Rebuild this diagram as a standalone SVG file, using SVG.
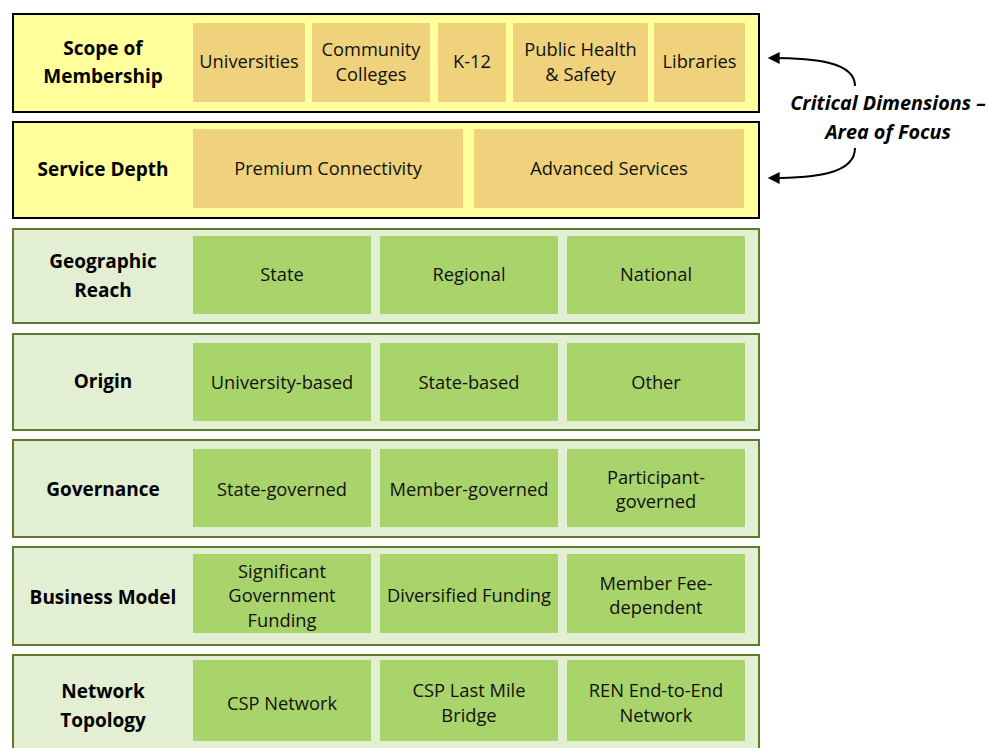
<svg xmlns="http://www.w3.org/2000/svg" width="989" height="748" viewBox="0 0 989 748">
<style>
.yo{fill:#FFFF9B;stroke:#000;stroke-width:2}
.yi{fill:#EFD27B}
.go{fill:#E2EFD2;stroke:#5B7B2D;stroke-width:2}
.gi{fill:#A9D46C}
.h{font-family:"Open Sans","Liberation Sans",sans-serif;font-weight:bold;font-size:19px;fill:#000;text-anchor:middle}
.t{font-family:"Open Sans","Liberation Sans",sans-serif;font-size:18.3px;fill:#111;text-anchor:middle}
.c{font-family:"Open Sans","Liberation Sans",sans-serif;font-weight:bold;font-style:italic;font-size:19.8px;fill:#000;text-anchor:middle}
.cn{fill:none;stroke:#000;stroke-width:2}
</style>
<defs>
<marker id="ah" viewBox="0 0 10 10" refX="8" refY="5" markerWidth="13" markerHeight="12" markerUnits="userSpaceOnUse" orient="auto">
<path d="M0,0 L10,5 L0,10 z" fill="#000"/>
</marker>
</defs>
<rect width="989" height="748" fill="#fff"/>

<g id="row-scope">
<rect class="yo" x="13" y="14" width="746" height="98"/>
<text class="h" x="103" y="55">Scope of</text>
<text class="h" x="103" y="83">Membership</text>
<rect class="yi" x="193" y="23" width="112" height="79"/>
<text class="t" x="249" y="68">Universities</text>
<rect class="yi" x="312" y="23" width="118" height="79"/>
<text class="t" x="371" y="56">Community</text>
<text class="t" x="371" y="81">Colleges</text>
<rect class="yi" x="438" y="23" width="68" height="79"/>
<text class="t" x="472" y="68">K-12</text>
<rect class="yi" x="513" y="23" width="135" height="79"/>
<text class="t" x="580.5" y="56">Public Health</text>
<text class="t" x="580.5" y="81">&amp; Safety</text>
<rect class="yi" x="654" y="23" width="91" height="79"/>
<text class="t" x="699.5" y="68">Libraries</text>
</g>

<g id="row-service">
<rect class="yo" x="13" y="122" width="746" height="96"/>
<text class="h" x="103" y="176">Service Depth</text>
<rect class="yi" x="193" y="129" width="270" height="79"/>
<text class="t" x="328" y="175">Premium Connectivity</text>
<rect class="yi" x="474" y="129" width="270" height="79"/>
<text class="t" x="609" y="175">Advanced Services</text>
</g>

<g id="row-geo">
<rect class="go" x="13" y="229" width="746" height="94"/>
<text class="h" x="103" y="268">Geographic</text>
<text class="h" x="103" y="297">Reach</text>
<rect class="gi" x="193" y="236" width="178" height="78"/>
<text class="t" x="282" y="281">State</text>
<rect class="gi" x="380" y="236" width="178" height="78"/>
<text class="t" x="469" y="281">Regional</text>
<rect class="gi" x="567" y="236" width="178" height="78"/>
<text class="t" x="656" y="281">National</text>
</g>

<g id="row-origin">
<rect class="go" x="13" y="334" width="746" height="96"/>
<text class="h" x="103" y="388">Origin</text>
<rect class="gi" x="193" y="343" width="178" height="78"/>
<text class="t" x="282" y="389">University-based</text>
<rect class="gi" x="380" y="343" width="178" height="78"/>
<text class="t" x="469" y="389">State-based</text>
<rect class="gi" x="567" y="343" width="178" height="78"/>
<text class="t" x="656" y="389">Other</text>
</g>

<g id="row-governance">
<rect class="go" x="13" y="440" width="746" height="97"/>
<text class="h" x="103" y="496">Governance</text>
<rect class="gi" x="193" y="449" width="178" height="78"/>
<text class="t" x="282" y="496">State-governed</text>
<rect class="gi" x="380" y="449" width="178" height="78"/>
<text class="t" x="469" y="496">Member-governed</text>
<rect class="gi" x="567" y="449" width="178" height="78"/>
<text class="t" x="656" y="484">Participant-</text>
<text class="t" x="656" y="508">governed</text>
</g>

<g id="row-business">
<rect class="go" x="13" y="547" width="746" height="98"/>
<text class="h" x="103" y="604">Business Model</text>
<rect class="gi" x="193" y="554" width="178" height="79"/>
<text class="t" x="282" y="578">Significant</text>
<text class="t" x="282" y="602">Government</text>
<text class="t" x="282" y="627">Funding</text>
<rect class="gi" x="380" y="554" width="178" height="79"/>
<text class="t" x="469" y="602">Diversified Funding</text>
<rect class="gi" x="567" y="554" width="178" height="79"/>
<text class="t" x="656" y="590">Member Fee-</text>
<text class="t" x="656" y="614">dependent</text>
</g>

<g id="row-topology">
<rect class="go" x="13" y="655" width="746" height="100"/>
<text class="h" x="103" y="698">Network</text>
<text class="h" x="103" y="727">Topology</text>
<rect class="gi" x="193" y="660" width="178" height="81"/>
<text class="t" x="282" y="710">CSP Network</text>
<rect class="gi" x="380" y="660" width="178" height="81"/>
<text class="t" x="469" y="697">CSP Last Mile</text>
<text class="t" x="469" y="722">Bridge</text>
<rect class="gi" x="567" y="660" width="178" height="81"/>
<text class="t" x="656" y="697">REN End-to-End</text>
<text class="t" x="656" y="722">Network</text>
</g>

<g id="connectors">
<path class="cn" d="M855,86 C855,62 815,58 770,58" marker-end="url(#ah)"/>
<path class="cn" d="M855,148 C855,174 815,178 770,178" marker-end="url(#ah)"/>
</g>

<g id="note">
<text class="c" x="888" y="110">Critical Dimensions –</text>
<text class="c" x="888" y="139">Area of Focus</text>
</g>
</svg>
